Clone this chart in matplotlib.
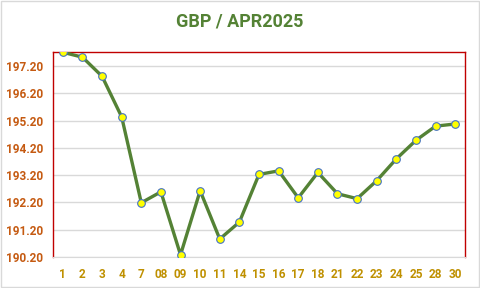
import matplotlib
matplotlib.use('Agg')
import matplotlib.pyplot as plt
import numpy as np

plt.rcParams['font.family'] = ['Roboto', 'DejaVu Sans']

days = ['1', '2', '3', '4', '7', '08', '09', '10', '11', '14', '15', '16', '17',
        '18', '21', '22', '23', '24', '25', '28', '30']
rates = [197.71, 197.53, 196.83, 195.34, 192.19, 192.59, 190.28, 192.63, 190.86,
         191.48, 193.23, 193.36, 192.37, 193.30, 192.52, 192.34, 193.00, 193.80,
         194.48, 195.00, 195.08]
yticks = [190.20, 191.20, 192.20, 193.20, 194.20, 195.20, 196.20, 197.20]

fig = plt.figure(figsize=(4.8, 2.88), dpi=100)
ax = fig.add_axes([53/480, 31/288, 412/480, 205/288])

x = np.arange(len(days))
ax.plot(x, rates, color='#548235', lw=2.4, marker='o', ms=5.5,
        mfc='#FFFF00', mec='#4472C4', mew=0.8, zorder=3)

ax.set_xlim(-0.5, len(days) - 0.5)
ax.set_ylim(190.20, 197.72)
ax.set_yticks(yticks)
ax.set_yticklabels([f'{v:.2f}' for v in yticks])
ax.set_xticks(x)
ax.set_xticklabels(days)
ax.grid(axis='y', color='#D9D9D9', lw=1)
ax.set_axisbelow(True)
ax.tick_params(length=0)
ax.tick_params(axis='y', pad=7, labelcolor='#C55A11', labelsize=8.5)
ax.tick_params(axis='x', pad=8, labelcolor='#BF9000', labelsize=8.5)
for lab in ax.get_xticklabels() + ax.get_yticklabels():
    lab.set_fontweight('bold')

for side in ['left', 'top', 'right']:
    ax.spines[side].set_color('#C00000')
    ax.spines[side].set_linewidth(1)
ax.spines['bottom'].set_color('#D9D9D9')

fig.text(0.5, 1 - 22/288, 'GBP / APR2025', ha='center', va='center',
         fontsize=13, fontweight='bold', color='#548235')

# outer chart border
fig.add_artist(plt.Rectangle((0.002, 0.003), 0.996, 0.994, transform=fig.transFigure,
                             fill=False, edgecolor='#D9D9D9', lw=1))

plt.savefig('out.png', dpi=100)
plt.close()
